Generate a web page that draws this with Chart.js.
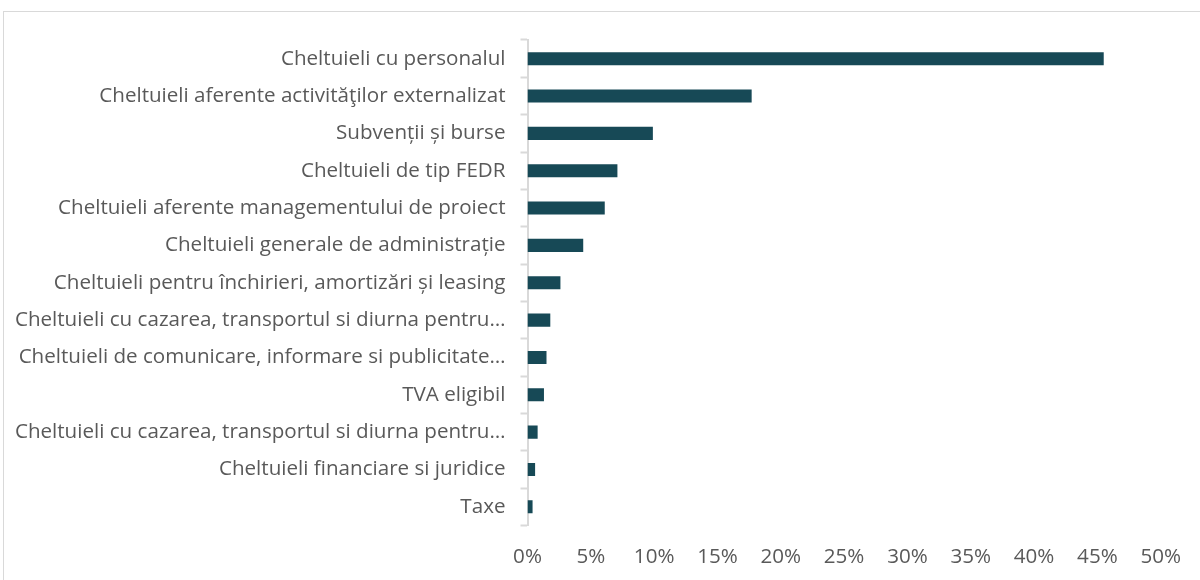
<!DOCTYPE html>
<html>
<head>
<meta charset="utf-8">
<script src="https://cdn.jsdelivr.net/npm/chart.js@4"></script>
<style>
  html, body { margin: 0; padding: 0; background: #fff; overflow: hidden; }
  #frame {
    position: absolute; left: 3px; top: 11px; width: 1300px; height: 700px;
    border-left: 1px solid #d9d9d9; border-top: 1px solid #d9d9d9;
  }
  #wrap { position: absolute; left: 0; top: 0; width: 1200px; height: 580px; }
</style>
</head>
<body>
<div id="frame"></div>
<div id="wrap"><canvas id="chartCosts" width="1200" height="580"></canvas></div>
<script>
const categories = [
    "Cheltuieli cu personalul",
    "Cheltuieli aferente activităţilor externalizat",
    "Subvenții și burse",
    "Cheltuieli de tip FEDR",
    "Cheltuieli aferente managementului de proiect",
    "Cheltuieli generale de administrație",
    "Cheltuieli pentru închirieri, amortizări și leasing",
    "Cheltuieli cu cazarea, transportul si diurna pentru…",
    "Cheltuieli de comunicare, informare si publicitate…",
    "TVA eligibil",
    "Cheltuieli cu cazarea, transportul si diurna pentru…",
    "Cheltuieli financiare si juridice",
    "Taxe"
];
const shares = [45.5, 17.7, 9.9, 7.1, 6.1, 4.4, 2.6, 1.8, 1.5, 1.3, 0.8, 0.6, 0.4];
const axisMin = 0;
const axisMax = 50;
const axisStep = 5;

const barColor = "#174956";
const textColor = "#595959";
const lineColor = "#d9d9d9";
const font = { size: 20.6, family: "'Open Sans', sans-serif" };

const ctx = document.getElementById("chartCosts").getContext("2d");
new Chart(ctx, {
    type: "bar",
    data: {
        labels: categories,
        datasets: [
            {
                data: shares,
                backgroundColor: barColor,
                borderWidth: 0,
                barPercentage: 0.35,
                categoryPercentage: 1
            }
        ]
    },
    options: {
        indexAxis: "y",
        responsive: false,
        animation: false,
        layout: { padding: { top: 40, right: 37.5, bottom: 0, left: 0 } },
        plugins: {
            legend: { display: false },
            tooltip: { enabled: false }
        },
        scales: {
            x: {
                min: axisMin,
                max: axisMax,
                ticks: {
                    stepSize: axisStep,
                    color: textColor,
                    font: font,
                    padding: 19,
                    maxRotation: 0,
                    callback: v => v + "%"
                },
                grid: { display: false, drawTicks: false },
                border: { display: false },
                afterFit: s => { s.height = 54.5; }
            },
            y: {
                ticks: {
                    color: textColor,
                    font: font,
                    padding: 15,
                    autoSkip: false
                },
                grid: {
                    drawOnChartArea: false,
                    drawTicks: true,
                    tickLength: 7,
                    tickWidth: 2,
                    tickColor: lineColor,
                    color: lineColor
                },
                border: { display: true, color: lineColor, width: 2 },
                afterFit: s => { s.width = 527.5; }
            }
        }
    }
});
</script>
</body>
</html>
